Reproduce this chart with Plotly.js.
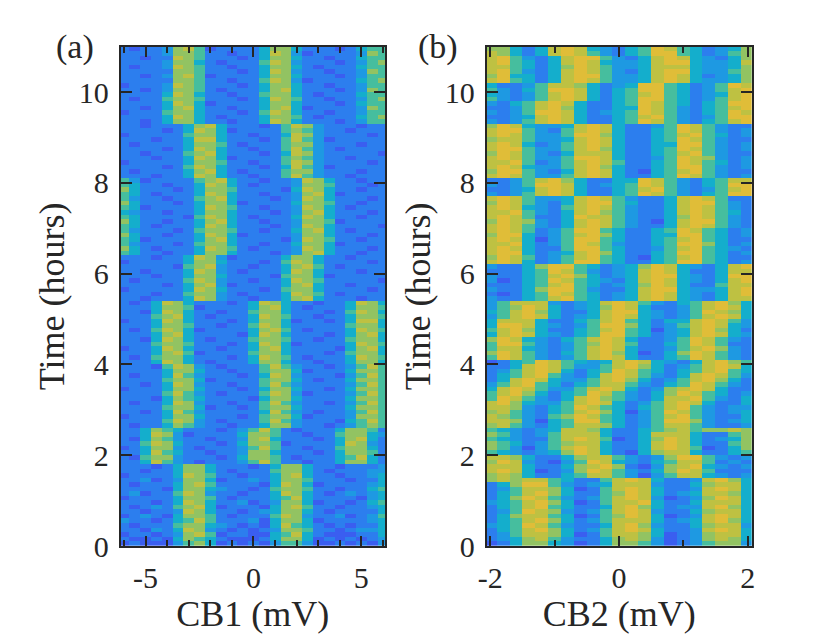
<!DOCTYPE html>
<html>
<head>
<meta charset="utf-8">
<script src="https://cdn.plot.ly/plotly-3.0.1.min.js"></script>
<style>html,body{margin:0;padding:0;background:#fff;}#chart{width:830px;height:635px;}</style>
</head>
<body>
<div id="chart"></div>
<script>
// CB1 sweep values (mV), column centres of panel (a)
const cb1Values = [-6,-5.5,-5,-4.5,-4,-3.5,-3,-2.5,-2,-1.5,-1,-0.5,0,0.5,1,1.5,2,2.5,3,3.5,4,4.5,5,5.5,6];
// CB2 sweep values (mV), column centres of panel (b)
const cb2Values = [-2,-1.8,-1.6,-1.4,-1.2,-1,-0.8,-0.6,-0.4,-0.2,0,0.2,0.4,0.6,0.8,1,1.2,1.4,1.6,1.8,2];
// time axis: first row centre and row spacing (hours)
const timeFirst = 0.05;
const timeStep = 0.1;
const cb1TickVals = [-5,0,5];
const cb1TickText = ['-5','0','5'];
const cb2TickVals = [-2,0,2];
const cb2TickText = ['-2','0','2'];
const timeTickVals = [0,2,4,6,8,10];
const timeTickText = ['0','2','4','6','8','10'];

// Panel (a) signal level (0-9) per time row (bottom row first), one digit per CB1 column
const cb1Rows = [
"1211135641212135531121213","2112146542111246641212123","1221236751221145742111224","2213247632121236652212334",
"2122256643212147542121224","3221245752223146641222234","1232146652122257632231235","2212237642212346642122224",
"2123256741222146752212234","2221247642231236641221245","1222246652122245742222134","2312257632212247642123234",
"2222146643221256652212245","2122246752222147641222234","2231236641223246652221224","1222247652212246742212234",
"2212246642122256642122233","2221246642221246642212223",
"2247532122235752212246642","2156632221246652122245742","2247542212236642221246652","1246632122235752212256642",
"2257642221246651222247632","2146532212236742221246742","2247631222246652212256643","2246542221235752122246652",
"2122465322122466322123565","2222576321222575322214575","1222466422212566412223665","2212475322222475321223575",
"2222566412212566422224665","2122476322122575322123575","2221465422221466422224665","2222575321222576312223575",
"1222466422212466422124665","2212476322122575322223575","2222566412222566421224665","2122475322212476322213575",
"2222466422122566412224665","2221576321222575322123575",
"2224764212224664221224664","2125664222124765212224765","2224675122225664222125664","1224764221224674222214674",
"2225665222124764122224765","2214764212225665221225664","2224674222214764222124674","2125764122224675212224765",
"2224665221225764222225664","1224764222124664122124774","2225674212224765221224665","2214764221225664222125764",
"2224665122224674212224665","2124764222124764221224764",
"2212224763221224674222122","2221225663212224765212222","1222224764222125664222212","2222124673122224674221222",
"2122225763221224765222221","2221224664222215664122222","2212224763212224764222122","2222215673221224675212222",
"1222224664222125764222212","2221224763122224664221222",
"5422122466422212367422122","6421222476521222376422212","5322212566422122466412222","5412222467422221376522122",
"6422122476412222366422212","5322212566522122467421222","5421222476422212376422221","6422122467422122366512222",
"5422221576421222476422122","4322122466422212367422212","5412222476522122376421222","6422212466412222466522122",
"5322122567422212376422212","5421222476422122367412222","6422212466522221476422122","5422122476421222366522212",
"5312222567422122376422122",
"2221224764221225753221222","2122224674212225663222122","2222125764222124753122222","1222224665221225763222212",
"2221224764122225653221222","2212225674222124763222221","2222124764221225753212222","2122224665212225663222122",
"2221224774222125753122222","1222225664221224763222212","2222124764122225653221222","2212224674222125763222122",
"2212466422122476422212355","2222476421222466521222456","1222566422212576422122355","2212467422122467412222365",
"2222476412222466422212455","2122566522212476522122356","2222476422122566421222455","2212366521222467422212365",
"1222376522212466422122355","2222266522122576312222456","2212367512222466422212355","2222266522212476322122365",
"2122376522122466421222455","2222366421222576322212356","2212276522212466422122455","2222366522122476312222365",
"2122367512222466422212455"
];

// Panel (b) signal level (0-9) per time row (bottom row first), one digit per CB2 column
const cb2Rows = [
"124664312466531235663","234675322467631236764","235776412577641236774","245786423578742237874",
"345875322478632246773","245786423577742347864","246775412568741237874","235876323578732246774",
"245785422478642337864","345786412577842247774","246875323578731236874","245786422568742347764",
"235776412578742237874","246885323477732246774","676775422578742237864",
"676422457753135774323","787412368753246875222","777422467862136784323","687321358743245775232","776422467753236885323",
"543234687421467742245","653135787422478751246","654235677422478742256","543225787512468742346","653235777422477742256",
"543234776422456756676",
"675324577642357753223","776314588542358863234","765325687542357853224","675324578641358753234","776324587542457853233",
"786433578742357874224","587532478653247785324","578642458753246875423","478753357874236787422","357854245775324587532",
"247874335786423578642","245785324787532478753","235787424587542457854","224787533578642357874","124587543478743247865",
"587532357874224587532","687532457864124687532","577432357874223578632","588532356875224587522","687432457874223587532",
"478743245885423478743","578642245785413478642","488743235886423578743","477742245785424478753",
"357874234787432357874","457864224788432358764","356874234687422357874","357773234787532457864",
"322457854234787432477","212458754234787432478","322468853224788433478","222457854234687422577",
"312458754324787432478","322457864234788432488","222458753234787422477","322468854234687432478",
"787423588542245885423","687523578542145785422","788423478642245885423","787422588542235785432",
"778423587532245886423","787413588542245785422","688423578642244885423","787523588542245875423",
"787532478753224787532","687632478753214788532","787522487753224687532","778532478653224787542",
"787432578753224787532","687532478854224788532","787533478753224787522",
"323578742245875324588","223478742245785323578","323588742345875324588","223578642244875324577",
"787533578742245875323","688532478742145785322","787433578642245885323","778523578752245875423",
"787533588742235876323","687532477742245785322","788533578642245875323","787423578742244885323",
"677533478742245875322","787533588642245785423","788532578742245875323","687433478742235875322",
"323578742245875324578","223478742245785323588","323588742345875324587","223578642244875324578",
"324578742245875424588","532357874245885423578","432357874245785423478","532458874245885423578",
"422357764234885423587","785424787533478743346","684424788533478742346","785324787532478843356",
"775424687533477743346","785424787433478843347","785324788532478743246","764247875324588542356",
"664247874324587542346"
];

function toMatrix(rows){ return rows.map(r => r.split('').map(Number)); }

const parula = [
  [0/9,'rgb(70,58,212)'],[1/9,'rgb(58,94,240)'],[2/9,'rgb(44,126,238)'],[3/9,'rgb(30,153,226)'],
  [4/9,'rgb(20,174,204)'],[5/9,'rgb(70,190,158)'],[6/9,'rgb(146,195,98)'],[7/9,'rgb(190,193,66)'],
  [8/9,'rgb(224,189,56)'],[9/9,'rgb(248,214,42)']
];

const ink = '#262626';
const fontFam = '"Liberation Serif", "Times New Roman", Times, serif';

const traceA = {type:'heatmap', z: toMatrix(cb1Rows), x: cb1Values, y0: timeFirst, dy: timeStep,
  colorscale: parula, zmin:0, zmax:9, showscale:false, zsmooth:false, xaxis:'x', yaxis:'y', hoverinfo:'skip'};
const traceB = {type:'heatmap', z: toMatrix(cb2Rows), x: cb2Values, y0: timeFirst, dy: timeStep,
  colorscale: parula, zmin:0, zmax:9, showscale:false, zsmooth:false, xaxis:'x2', yaxis:'y2', hoverinfo:'skip'};

function xAxis(domain, range, tv, tt, minorVals, title, anchor){
  return {domain, range, anchor, tickmode:'array', tickvals:tv, ticktext:tt,
    ticks:'inside', ticklen:10, tickwidth:2, tickcolor:ink,
    minor:{tickmode:'array', tickvals:minorVals, ticks:'inside', ticklen:6, tickwidth:2, tickcolor:ink, showgrid:false},
    showline:true, linecolor:ink, linewidth:2, mirror:'allticks', showgrid:false, zeroline:false,
    tickfont:{family:fontFam, size:30, color:ink}, ticklabelstandoff:4,
    title:{text:title, font:{family:fontFam, size:36, color:ink}, standoff:1}, automargin:false, fixedrange:true};
}
function yAxis(domain, anchor){
  return {domain, range:[0,11], anchor, tickmode:'array', tickvals:timeTickVals, ticktext:timeTickText,
    ticks:'inside', ticklen:11, tickwidth:2, tickcolor:ink,
    showline:true, linecolor:ink, linewidth:2, mirror:'allticks', showgrid:false, zeroline:false,
    tickfont:{family:fontFam, size:30, color:ink}, ticklabelstandoff:4,
    title:{text:'Time (hours)', font:{family:fontFam, size:36, color:ink}, standoff:3}, automargin:false, fixedrange:true};
}

const yDom = [(635-546)/635, (635-46.7)/635];
const layout = {
  width:830, height:635, margin:{l:0,r:0,t:0,b:0},
  paper_bgcolor:'#ffffff', plot_bgcolor:'#ffffff', showlegend:false,
  font:{family:fontFam, color:ink},
  xaxis: xAxis([120.7/830, 385/830], [-6.15,6.1], cb1TickVals, cb1TickText, [-6,-4,-3,-2,-1,1,2,3,4,6], 'CB1 (mV)', 'y'),
  yaxis: yAxis(yDom, 'x'),
  xaxis2: xAxis([486.7/830, 751.7/830], [-2.055,2.06], cb2TickVals, cb2TickText, [-1,1], 'CB2 (mV)', 'y2'),
  yaxis2: yAxis(yDom, 'x2'),
  annotations:[
    {text:'(a)', xref:'paper', yref:'paper', x:75/830, y:1-47/635, xanchor:'center', yanchor:'middle', showarrow:false,
     font:{family:fontFam, size:34, color:ink}},
    {text:'(b)', xref:'paper', yref:'paper', x:438/830, y:1-47/635, xanchor:'center', yanchor:'middle', showarrow:false,
     font:{family:fontFam, size:34, color:ink}}
  ]
};

Plotly.newPlot('chart', [traceA, traceB], layout, {staticPlot:true, displayModeBar:false});
</script>
</body>
</html>
